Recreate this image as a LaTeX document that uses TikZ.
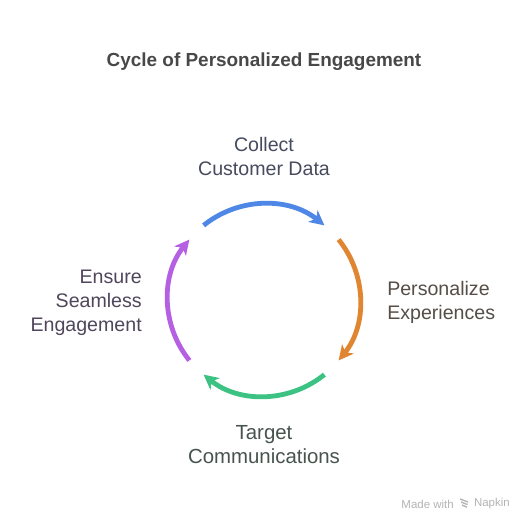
\documentclass[tikz,border=0pt]{standalone}
\usepackage{fontspec}
\setmainfont{Liberation Sans}
\usetikzlibrary{arrows.meta}
\definecolor{cblue}{HTML}{4F87E6}
\definecolor{corange}{HTML}{E08530}
\definecolor{cgreen}{HTML}{3CC384}
\definecolor{cpurple}{HTML}{B55FE3}
\definecolor{ctitle}{HTML}{484848}
\definecolor{lblue}{HTML}{474B5E}
\definecolor{lorange}{HTML}{564E47}
\definecolor{lgreen}{HTML}{47544E}
\definecolor{lpurple}{HTML}{50465C}
\definecolor{cmark}{HTML}{B4B4B4}
\tikzset{
  x=0.75pt,y=-0.75pt,
  cyclearc/.style={line width=3.6pt,-{Stealth[length=11pt,width=11pt,inset=3pt]}},
  lab/.style={font=\fontsize{14.7}{18}\selectfont,inner sep=0pt},
}
\begin{document}
\begin{tikzpicture}
\useasboundingbox (0,0) rectangle (528,526);
\fill[white] (0,0) rectangle (528,526);
\node[font=\bfseries\fontsize{14.2}{18}\selectfont,text=ctitle,inner sep=0pt] (title) at (264,62) {Cycle of Personalized Engagement};
\node[lab,align=center,text=lblue] (collect) at (264,156) {Collect\\Customer Data};
\node[lab,align=left,anchor=west,text=lorange] (personalize) at (387,302) {Personalize\\Experiences};
\node[lab,font=\fontsize{15.3}{18}\selectfont,align=center,text=lgreen] (target) at (264,444.5) {Target\\Communications};
\node[lab,align=right,anchor=east,text=lpurple] (ensure) at (142,302.5) {Ensure\\Seamless\\Engagement};
\draw[cyclearc,cblue] (203.6,225.4) arc[start angle=-129,end angle=-51,radius=96];
\draw[cyclearc,corange] (338.6,239.6) arc[start angle=-39,end angle=39,radius=96];
\draw[cyclearc,cgreen] (324.4,374.6) arc[start angle=51,end angle=129,radius=96];
\draw[cyclearc,cpurple] (189.4,360.4) arc[start angle=141,end angle=219,radius=96];
\node[anchor=east,font=\fontsize{8.6}{10}\selectfont,text=cmark,inner sep=0pt] (napkin) at (510,504) {Napkin};
\node[anchor=east,font=\fontsize{8.6}{10}\selectfont,text=cmark,inner sep=0pt] (made) at (454,504) {Made with};
\foreach \i in {0,1,2}
  \draw[cmark,line width=1pt] ({460+\i},{499+3*\i}) -- ({468-\i*0.5},{502+2.6*\i});
\end{tikzpicture}
\end{document}
